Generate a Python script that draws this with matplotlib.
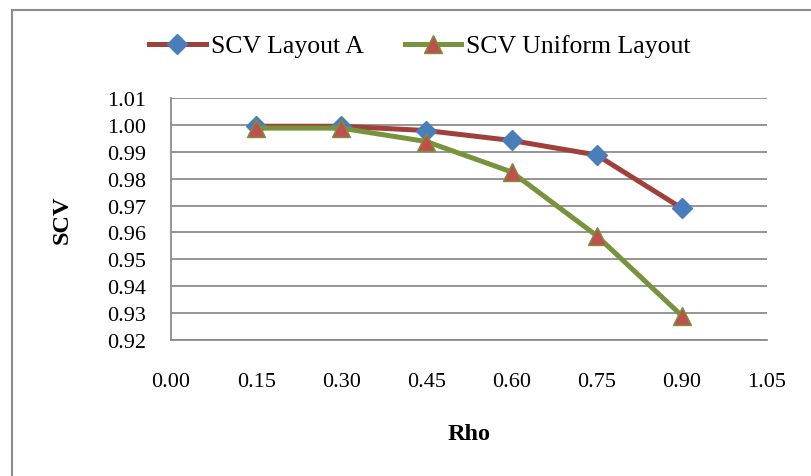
import matplotlib
matplotlib.use("Agg")
import matplotlib.pyplot as plt
from matplotlib.lines import Line2D

# Data
rho = [0.15, 0.30, 0.45, 0.60, 0.75, 0.90]
scv_layout_a = [0.9995, 0.9995, 0.9979, 0.9942, 0.9888, 0.9690]
scv_uniform = [0.9988, 0.9988, 0.9938, 0.9825, 0.9588, 0.9290]
x_ticks = [0.00, 0.15, 0.30, 0.45, 0.60, 0.75, 0.90, 1.05]
y_ticks = [0.92, 0.93, 0.94, 0.95, 0.96, 0.97, 0.98, 0.99, 1.00, 1.01]

plt.rcParams['font.family'] = ['Liberation Serif', 'DejaVu Serif']

W, H = 812, 477
fig = plt.figure(figsize=(W / 100, H / 100), dpi=100)
ax = fig.add_axes([171 / W, 1 - 341 / H, (767 - 171) / W, (341 - 99) / H])

grid_col = '#8c8c8c'
ax.plot(rho, scv_layout_a, color='#a0403c', lw=3.6, marker='D', ms=10.5,
        mfc='#4a7ebb', mec='#4a7ebb', label='SCV Layout A', zorder=3)
ax.plot(rho, scv_uniform, color='#77933c', lw=3.6, marker='^', ms=13,
        mfc='#c0504d', mec='#77933c', mew=1, label='SCV Uniform Layout', zorder=4)

ax.set_xlim(0, 1.05)
ax.set_ylim(0.92, 1.01)
ax.set_xticks(x_ticks)
ax.set_xticklabels([f"{v:.2f}" for v in x_ticks])
ax.set_yticks(y_ticks)
ax.set_yticklabels([f"{v:.2f}" for v in y_ticks])
ax.tick_params(axis='both', length=0, labelsize=16)
ax.tick_params(axis='x', pad=23)
ax.tick_params(axis='y', pad=18)

ax.yaxis.grid(True, color=grid_col, lw=1.3)
ax.set_axisbelow(True)
for s in ['top', 'right']:
    ax.spines[s].set_visible(False)
for s in ['left', 'bottom']:
    ax.spines[s].set_color(grid_col)
    ax.spines[s].set_linewidth(1.3)

fig.text(469 / W, 1 - 435 / H, 'Rho', ha='center', va='center',
         fontsize=17.5, fontweight='bold')
fig.text(62 / W, 1 - 220 / H, 'SCV', ha='center', va='center',
         fontsize=17.5, fontweight='bold', rotation=90)

fig.legend(loc='center', bbox_to_anchor=(420 / W, 1 - 47 / H), ncol=2,
           frameon=False, fontsize=18.5, handlelength=2.2, handletextpad=0.2,
           columnspacing=1.6)

# chart border (left and top visible)
fig.add_artist(Line2D([12 / W, 12 / W], [0, 1 - 11 / H], color='#8c8c8c', lw=1.5))
fig.add_artist(Line2D([12 / W, 1], [1 - 11 / H, 1 - 11 / H], color='#8c8c8c', lw=1.5))

fig.savefig('out.png', dpi=100)
